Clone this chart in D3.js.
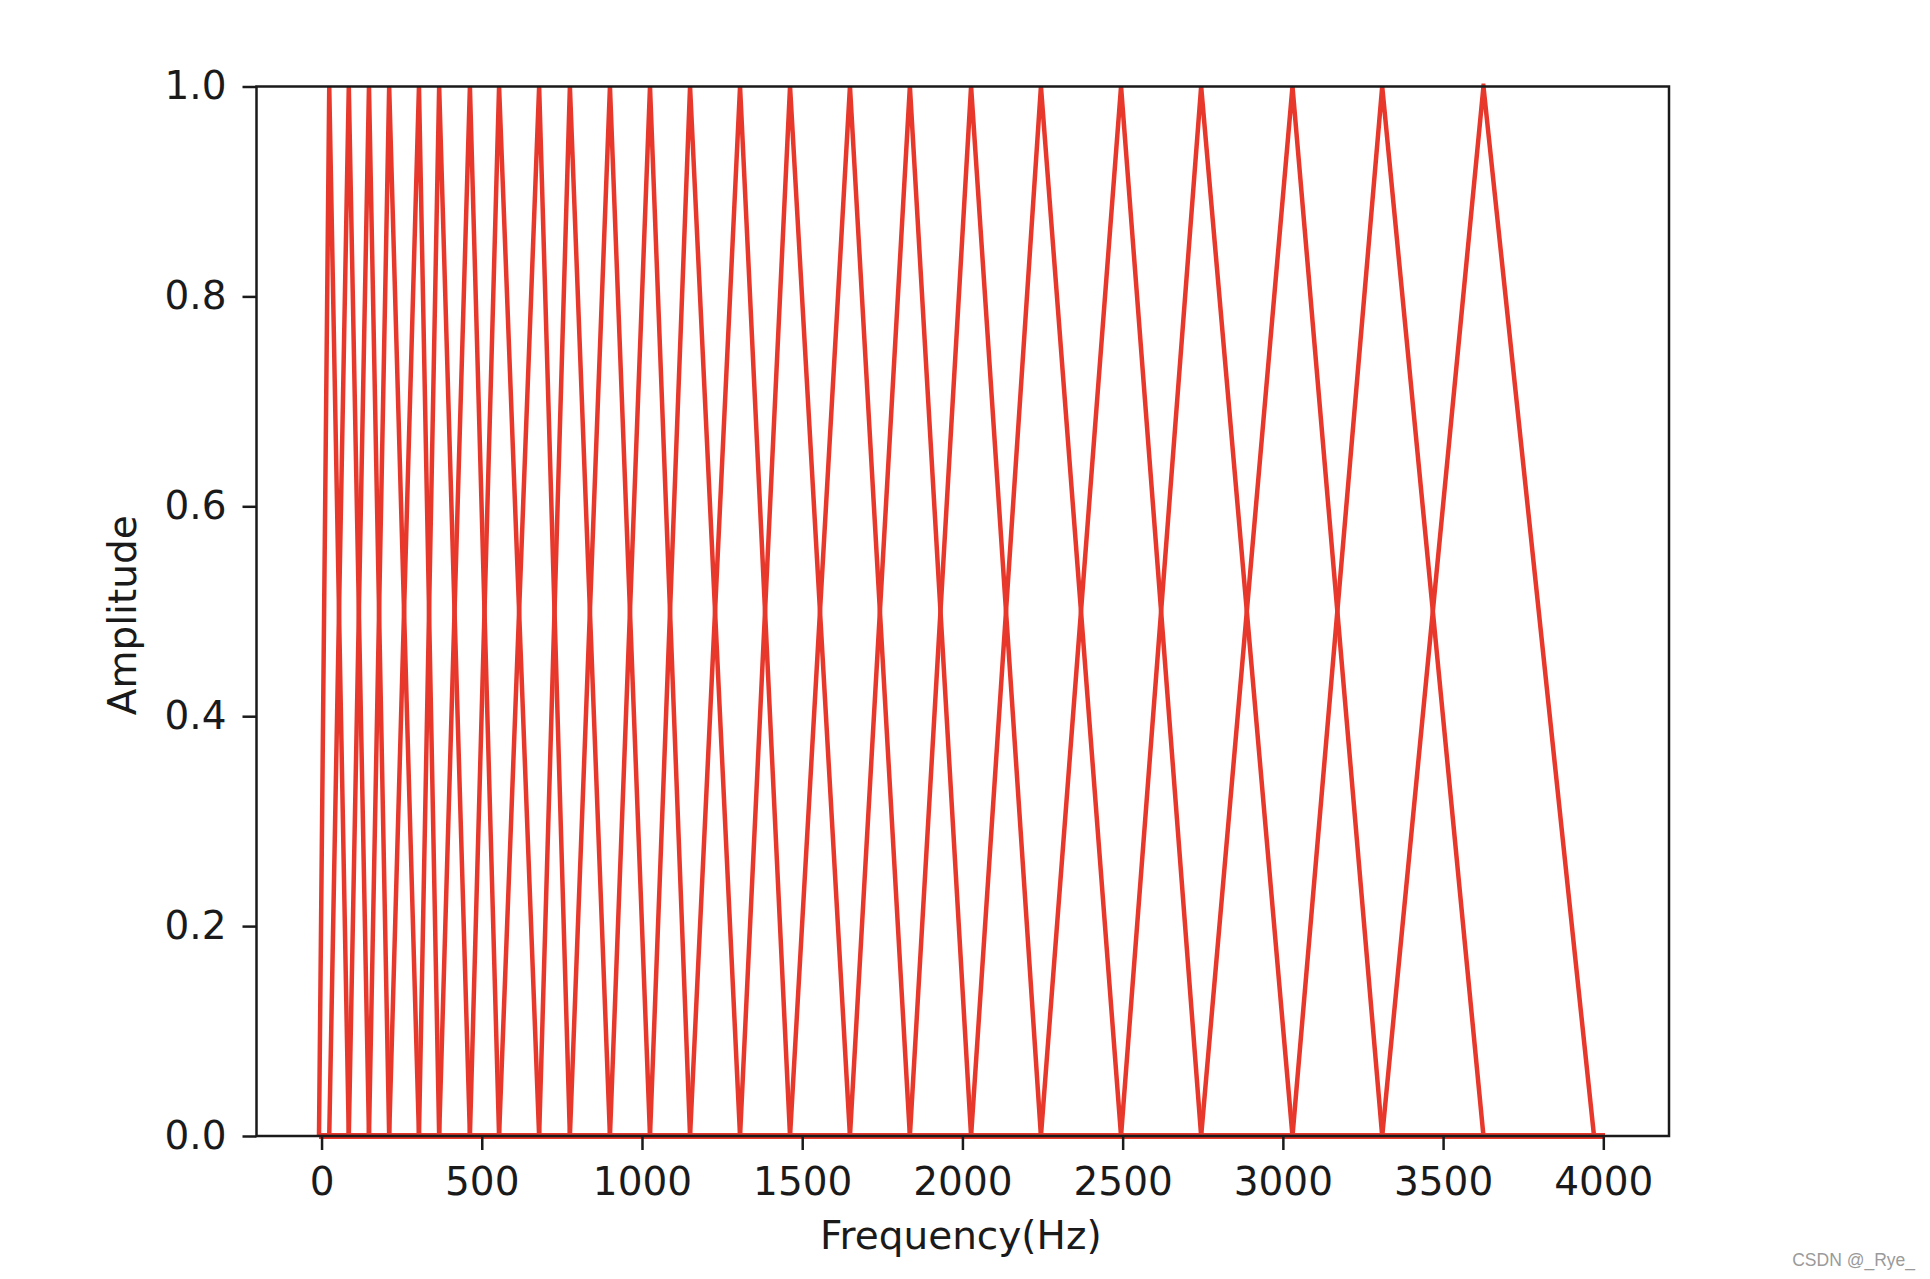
<!DOCTYPE html>
<html>
<head>
<meta charset="utf-8">
<script src="https://cdn.jsdelivr.net/npm/d3@7"></script>
<style>
  body { margin: 0; background: #fff; }
  svg text { font-family: "DejaVu Sans", sans-serif; fill: #1a1a1a; }
</style>
</head>
<body>
<svg id="chart" width="1930" height="1279"></svg>
<script>
// mel filter edge / centre frequencies (Hz)
const melPoints = [-8, 24, 85, 148, 211, 304, 367, 463, 554, 679, 775, 900, 1025, 1150,
	1306, 1462, 1649, 1836, 2027, 2245, 2495, 2745, 3030, 3310, 3626, 3971]
const freqEnd = 4005
const xTicks = [0, 500, 1000, 1500, 2000, 2500, 3000, 3500, 4000]
const yTicks = [0, 0.2, 0.4, 0.6, 0.8, 1.0]

const svg = d3.select("#chart")
const plotLeft = 256.5, plotRight = 1669, plotTop = 86.5, plotBottom = 1136

const x = d3.scaleLinear().domain([-203, 4205]).range([plotLeft, plotRight])
const y = d3.scaleLinear().domain([0, 1]).range([plotBottom, plotTop])

/**
 * One triangle per filter: zero everywhere except between its neighbours
 */
const filters = d3.range(1, melPoints.length - 1).map(i => [
	[melPoints[0], 0],
	[melPoints[i - 1], 0],
	[melPoints[i], 1],
	[melPoints[i + 1], 0],
	[freqEnd, 0]
])

const line = d3.line().x(d => x(d[0])).y(d => y(d[1]))

svg.append("defs").append("clipPath").attr("id", "clip")
	.append("rect")
	.attr("x", plotLeft).attr("y", plotTop - 3)
	.attr("width", plotRight - plotLeft).attr("height", plotBottom - plotTop + 6)

svg.append("g")
	.attr("clip-path", "url(#clip)")
	.selectAll(".filter")
	.data(filters)
	.enter()
	.append("path")
	.attr("class", "filter")
	.attr("d", line)
	.attr("fill", "none")
	.attr("stroke", "#e8382c")
	.attr("stroke-width", 4.5)
	.attr("stroke-linejoin", "miter")
	.attr("stroke-miterlimit", 10)

// axes
const xAxis = svg.append("g")
	.attr("transform", `translate(0,${plotBottom})`)
	.call(d3.axisBottom(x).tickValues(xTicks).tickSize(14).tickPadding(17).tickFormat(d3.format("d")))
const yAxis = svg.append("g")
	.attr("transform", `translate(${plotLeft},0)`)
	.call(d3.axisLeft(y).tickValues(yTicks).tickSize(14).tickPadding(16).tickFormat(d3.format(".1f")))

for (const g of [xAxis, yAxis]) {
	g.select(".domain").remove()
	g.selectAll("line").attr("stroke", "#1a1a1a").attr("stroke-width", 2.5)
	g.selectAll("text").attr("font-size", 39).attr("fill", "#1a1a1a")
		.style("font-family", "DejaVu Sans, sans-serif")
}

// frame
svg.append("rect")
	.attr("x", plotLeft).attr("y", plotTop)
	.attr("width", plotRight - plotLeft).attr("height", plotBottom - plotTop)
	.attr("fill", "none")
	.attr("stroke", "#1a1a1a")
	.attr("stroke-width", 2.5)

svg.append("text")
	.attr("x", (plotLeft + plotRight) / 2 - 2)
	.attr("y", 1249)
	.attr("text-anchor", "middle")
	.attr("font-size", 39)
	.text("Frequency(Hz)")

svg.append("text")
	.attr("transform", `translate(136,${(plotTop + plotBottom) / 2 + 4}) rotate(-90)`)
	.attr("text-anchor", "middle")
	.attr("font-size", 39)
	.text("Amplitude")

svg.append("text")
	.attr("x", 1915)
	.attr("y", 1266)
	.attr("text-anchor", "end")
	.attr("font-size", 17.5)
	.style("font-family", "Liberation Sans, Arial, sans-serif")
	.style("fill", "#9a9a9a")
	.text("CSDN @_Rye_")
</script>
</body>
</html>
